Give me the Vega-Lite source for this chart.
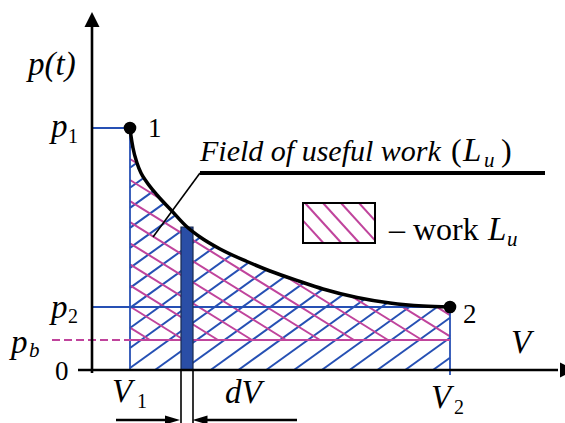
{
  "$schema": "https://vega.github.io/schema/vega-lite/v6.json",
  "width": 565,
  "height": 423,
  "padding": 0,
  "autosize": {"type": "none"},
  "background": "white",
  "config": {"view": {"stroke": null}, "text": {"font": "'Liberation Serif', 'Times New Roman', 'DejaVu Serif', serif"}},
  "datasets": {
    "curve": [
      {"u": 3.8, "v": 24.2}, {"u": 3.9, "v": 23.4}, {"u": 4.1, "v": 22.2}, {"u": 4.5, "v": 20.7},
      {"u": 4.9, "v": 19.7}, {"u": 5.4, "v": 18.9}, {"u": 6.5, "v": 17.5}, {"u": 7.9, "v": 16.0},
      {"u": 9.4, "v": 14.4}, {"u": 10.8, "v": 13.3}, {"u": 12.8, "v": 12.1}, {"u": 15.5, "v": 10.85},
      {"u": 17.8, "v": 9.9}, {"u": 20.8, "v": 8.85}, {"u": 23.1, "v": 8.1}, {"u": 26.5, "v": 7.25},
      {"u": 29.8, "v": 6.7}, {"u": 33.1, "v": 6.4}, {"u": 35.8, "v": 6.3}
    ],
    "segs": [
      {"kind": "bh", "u": 3.8, "v": 22.22, "u2": 10.44, "v2": 27},
      {"kind": "bh", "u": 3.8, "v": 20.22, "u2": 13.22, "v2": 27},
      {"kind": "bh", "u": 3.8, "v": 18.22, "u2": 16.0, "v2": 27},
      {"kind": "bh", "u": 3.8, "v": 16.21, "u2": 18.78, "v2": 27},
      {"kind": "bh", "u": 3.8, "v": 14.21, "u2": 21.56, "v2": 27},
      {"kind": "bh", "u": 3.8, "v": 12.21, "u2": 24.34, "v2": 27},
      {"kind": "bh", "u": 3.8, "v": 10.21, "u2": 27.12, "v2": 27},
      {"kind": "bh", "u": 3.8, "v": 8.21, "u2": 29.9, "v2": 27},
      {"kind": "bh", "u": 3.8, "v": 6.21, "u2": 32.68, "v2": 27},
      {"kind": "bh", "u": 3.8, "v": 4.2, "u2": 35.46, "v2": 27},
      {"kind": "bh", "u": 3.8, "v": 2.2, "u2": 35.8, "v2": 25.24},
      {"kind": "bh", "u": 3.8, "v": 0.2, "u2": 35.8, "v2": 23.24},
      {"kind": "bh", "u": 6.3, "v": 0, "u2": 35.8, "v2": 21.24},
      {"kind": "bh", "u": 9.08, "v": 0, "u2": 35.8, "v2": 19.24},
      {"kind": "bh", "u": 11.86, "v": 0, "u2": 35.8, "v2": 17.24},
      {"kind": "bh", "u": 14.64, "v": 0, "u2": 35.8, "v2": 15.24},
      {"kind": "bh", "u": 17.42, "v": 0, "u2": 35.8, "v2": 13.23},
      {"kind": "bh", "u": 20.2, "v": 0, "u2": 35.8, "v2": 11.23},
      {"kind": "bh", "u": 22.98, "v": 0, "u2": 35.8, "v2": 9.23},
      {"kind": "bh", "u": 25.76, "v": 0, "u2": 35.8, "v2": 7.23},
      {"kind": "bh", "u": 28.54, "v": 0, "u2": 35.8, "v2": 5.23},
      {"kind": "bh", "u": 31.32, "v": 0, "u2": 35.8, "v2": 3.23},
      {"kind": "bh", "u": 34.1, "v": 0, "u2": 35.8, "v2": 1.22},
      {"kind": "mh", "u": 3.8, "v": 4.24, "u2": 5.8, "v2": 3.0},
      {"kind": "mh", "u": 3.8, "v": 6.35, "u2": 9.2, "v2": 3.0},
      {"kind": "mh", "u": 3.8, "v": 8.46, "u2": 12.6, "v2": 3.0},
      {"kind": "mh", "u": 3.8, "v": 10.56, "u2": 16.0, "v2": 3.0},
      {"kind": "mh", "u": 3.8, "v": 12.67, "u2": 19.4, "v2": 3.0},
      {"kind": "mh", "u": 3.8, "v": 14.78, "u2": 22.8, "v2": 3.0},
      {"kind": "mh", "u": 3.8, "v": 16.89, "u2": 26.2, "v2": 3.0},
      {"kind": "mh", "u": 3.8, "v": 19.0, "u2": 29.6, "v2": 3.0},
      {"kind": "mh", "u": 3.8, "v": 21.1, "u2": 33.0, "v2": 3.0},
      {"kind": "mh", "u": 3.8, "v": 23.21, "u2": 35.8, "v2": 3.37},
      {"kind": "mh", "u": 3.8, "v": 25.32, "u2": 35.8, "v2": 5.48},
      {"kind": "gb", "u": 0, "v": 24.2, "u2": 3.8, "v2": 24.2},
      {"kind": "gb", "u": 0, "v": 6.3, "u2": 35.8, "v2": 6.3},
      {"kind": "gb", "u": 3.8, "v": 24.2, "u2": 3.8, "v2": 0},
      {"kind": "gb", "u": 35.8, "v": 6.3, "u2": 35.8, "v2": -0.5},
      {"kind": "gm", "u": 3.8, "v": 3.0, "u2": 35.8, "v2": 3.0},
      {"kind": "gmd", "u": -4.0, "v": 3.0, "u2": 3.8, "v2": 3.0},
      {"kind": "ax", "u": 0, "v": -0.3, "u2": 0, "v2": 35.2},
      {"kind": "ax", "u": -1.4, "v": 0, "u2": 46.6, "v2": 0},
      {"kind": "thin", "u": 10.8, "v": 19.7, "u2": 6.1, "v2": 13.3},
      {"kind": "thin", "u": 8.9, "v": 0, "u2": 8.9, "v2": -5.4},
      {"kind": "thin", "u": 10.1, "v": 0, "u2": 10.1, "v2": -5.4},
      {"kind": "ul", "u": 10.8, "v": 19.7, "u2": 45.3, "v2": 19.7},
      {"kind": "da", "u": 2.4, "v": -5.0, "u2": 8.1, "v2": -5.0},
      {"kind": "da", "u": 10.8, "v": -5.0, "u2": 20.5, "v2": -5.0},
      {"kind": "lh", "u": 21.1, "v": 14.94, "u2": 23.14, "v2": 12.7},
      {"kind": "lh", "u": 21.3, "v": 16.7, "u2": 24.94, "v2": 12.7},
      {"kind": "lh", "u": 23.1, "v": 16.7, "u2": 26.74, "v2": 12.7},
      {"kind": "lh", "u": 24.9, "v": 16.7, "u2": 28.3, "v2": 12.96},
      {"kind": "lh", "u": 26.7, "v": 16.7, "u2": 28.3, "v2": 14.94}
    ],
    "boxes": [
      {"kind": "bar", "u": 8.9, "u2": 10.1, "v": 0, "v2": 14.3},
      {"kind": "legend", "u": 21.1, "u2": 28.3, "v": 12.7, "v2": 16.7}
    ],
    "heads": [
      {"kind": "up", "u": 0, "v": 35.05},
      {"kind": "right", "u": 47.55, "v": 0},
      {"kind": "dr", "u": 8.05, "v": -5.0},
      {"kind": "dl", "u": 10.8, "v": -5.0}
    ],
    "dots": [
      {"name": "1", "u": 3.8, "v": 24.2},
      {"name": "2", "u": 35.8, "v": 6.3}
    ],
    "labels": [
      {"kind": "math", "text": "p(t)", "u": -6.4, "v": 29.5},
      {"kind": "math", "text": "p", "u": -4.1, "v": 23.3},
      {"kind": "math", "text": "p", "u": -4.1, "v": 5.2},
      {"kind": "math", "text": "p", "u": -8.1, "v": 1.7},
      {"kind": "math", "text": "V", "u": 2.0, "v": -3.2},
      {"kind": "math", "text": "dV", "u": 13.3, "v": -3.3},
      {"kind": "math", "text": "V", "u": 33.9, "v": -3.8},
      {"kind": "math", "text": "V", "u": 41.9, "v": 1.7},
      {"kind": "math", "text": "L", "u": 37.1, "v": 20.9},
      {"kind": "math", "text": "L", "u": 39.6, "v": 13.0},
      {"kind": "var", "text": "Field of useful work", "u": 10.8, "v": 20.9},
      {"kind": "sub", "text": "1", "u": -2.4, "v": 22.7},
      {"kind": "sub", "text": "2", "u": -2.4, "v": 4.7},
      {"kind": "sub", "text": "1", "u": 4.5, "v": -3.8},
      {"kind": "sub", "text": "2", "u": 36.2, "v": -4.4},
      {"kind": "isub", "text": "b", "u": -6.3, "v": 1.3},
      {"kind": "isub", "text": "u", "u": 39.2, "v": 20.3},
      {"kind": "isub", "text": "u", "u": 41.5, "v": 12.4},
      {"kind": "num", "text": "1", "u": 5.6, "v": 23.3},
      {"kind": "num", "text": "2", "u": 37.1, "v": 4.7},
      {"kind": "num", "text": "0", "u": -3.7, "v": -1.0},
      {"kind": "word", "text": "(", "u": 35.9, "v": 20.9},
      {"kind": "word", "text": ")", "u": 40.9, "v": 20.9},
      {"kind": "word", "text": "– work", "u": 29.7, "v": 13.0}
    ]
  },
  "encoding": {
    "x": {"field": "u", "type": "quantitative", "axis": null, "scale": {"domain": [-9.2, 47.3], "nice": false, "zero": false}},
    "y": {"field": "v", "type": "quantitative", "axis": null, "scale": {"domain": [-5.3, 37.0], "nice": false, "zero": false}}
  },
  "layer": [
    {
      "data": {"name": "segs"},
      "transform": [{"filter": "datum.kind === 'bh'"}],
      "mark": {"type": "rule", "color": "#2650b4", "strokeWidth": 2},
      "encoding": {"x2": {"field": "u2"}, "y2": {"field": "v2"}}
    },
    {
      "data": {"name": "segs"},
      "transform": [{"filter": "datum.kind === 'mh'"}],
      "mark": {"type": "rule", "color": "#c0449c", "strokeWidth": 2},
      "encoding": {"x2": {"field": "u2"}, "y2": {"field": "v2"}}
    },
    {
      "data": {"name": "curve"},
      "mark": {"type": "area", "interpolate": "monotone", "color": "white", "stroke": "white", "strokeWidth": 2.5, "opacity": 1},
      "encoding": {"y2": {"datum": 27.5}}
    },
    {
      "data": {"name": "segs"},
      "transform": [{"filter": "datum.kind === 'gb'"}],
      "mark": {"type": "rule", "color": "#2650b4", "strokeWidth": 1.8},
      "encoding": {"x2": {"field": "u2"}, "y2": {"field": "v2"}}
    },
    {
      "data": {"name": "segs"},
      "transform": [{"filter": "datum.kind === 'gm'"}],
      "mark": {"type": "rule", "color": "#c0449c", "strokeWidth": 2},
      "encoding": {"x2": {"field": "u2"}, "y2": {"field": "v2"}}
    },
    {
      "data": {"name": "segs"},
      "transform": [{"filter": "datum.kind === 'gmd'"}],
      "mark": {"type": "rule", "color": "#c0449c", "strokeWidth": 2, "strokeDash": [8, 4]},
      "encoding": {"x2": {"field": "u2"}, "y2": {"field": "v2"}}
    },
    {
      "data": {"name": "boxes"},
      "transform": [{"filter": "datum.kind === 'bar'"}],
      "mark": {"type": "rect", "color": "#2a4ea6", "stroke": "#1a2a50", "strokeWidth": 1.2},
      "encoding": {"x2": {"field": "u2"}, "y2": {"field": "v2"}}
    },
    {
      "data": {"name": "curve"},
      "mark": {"type": "line", "interpolate": "monotone", "color": "black", "strokeWidth": 3.5},
      "encoding": {}
    },
    {
      "data": {"name": "segs"},
      "transform": [{"filter": "datum.kind === 'ax'"}],
      "mark": {"type": "rule", "color": "black", "strokeWidth": 2.6},
      "encoding": {"x2": {"field": "u2"}, "y2": {"field": "v2"}}
    },
    {
      "data": {"name": "segs"},
      "transform": [{"filter": "datum.kind === 'thin'"}],
      "mark": {"type": "rule", "color": "black", "strokeWidth": 1.6},
      "encoding": {"x2": {"field": "u2"}, "y2": {"field": "v2"}}
    },
    {
      "data": {"name": "segs"},
      "transform": [{"filter": "datum.kind === 'ul'"}],
      "mark": {"type": "rule", "color": "black", "strokeWidth": 4},
      "encoding": {"x2": {"field": "u2"}, "y2": {"field": "v2"}}
    },
    {
      "data": {"name": "segs"},
      "transform": [{"filter": "datum.kind === 'da'"}],
      "mark": {"type": "rule", "color": "black", "strokeWidth": 2.5},
      "encoding": {"x2": {"field": "u2"}, "y2": {"field": "v2"}}
    },
    {
      "data": {"name": "heads"},
      "mark": {"type": "point", "filled": true, "color": "black", "size": 225, "opacity": 1},
      "encoding": {
        "shape": {"field": "kind", "type": "nominal", "legend": null,
          "scale": {"domain": ["up", "right", "dr", "dl"],
                    "range": ["M0,-1L1,1L-1,1Z", "M1,0L-1,-1L-1,1Z", "M1,0L-1,-0.6L-1,0.6Z", "M-1,0L1,-0.6L1,0.6Z"]}}
      }
    },
    {
      "data": {"name": "dots"},
      "mark": {"type": "point", "shape": "circle", "filled": true, "color": "black", "size": 160, "opacity": 1}
    },
    {
      "data": {"name": "segs"},
      "transform": [{"filter": "datum.kind === 'lh'"}],
      "mark": {"type": "rule", "color": "#c0449c", "strokeWidth": 2},
      "encoding": {"x2": {"field": "u2"}, "y2": {"field": "v2"}}
    },
    {
      "data": {"name": "boxes"},
      "transform": [{"filter": "datum.kind === 'legend'"}],
      "mark": {"type": "rect", "filled": false, "stroke": "black", "strokeWidth": 2},
      "encoding": {"x2": {"field": "u2"}, "y2": {"field": "v2"}}
    },
    {
      "data": {"name": "labels"},
      "transform": [{"filter": "datum.kind === 'math'"}],
      "mark": {"type": "text", "fontStyle": "italic", "fontSize": 33, "align": "left", "baseline": "alphabetic", "color": "black"},
      "encoding": {"text": {"field": "text"}}
    },
    {
      "data": {"name": "labels"},
      "transform": [{"filter": "datum.kind === 'var'"}],
      "mark": {"type": "text", "fontStyle": "italic", "fontSize": 30, "align": "left", "baseline": "alphabetic", "color": "black"},
      "encoding": {"text": {"field": "text"}}
    },
    {
      "data": {"name": "labels"},
      "transform": [{"filter": "datum.kind === 'sub'"}],
      "mark": {"type": "text", "fontSize": 20, "align": "left", "baseline": "alphabetic", "color": "black"},
      "encoding": {"text": {"field": "text"}}
    },
    {
      "data": {"name": "labels"},
      "transform": [{"filter": "datum.kind === 'isub'"}],
      "mark": {"type": "text", "fontStyle": "italic", "fontSize": 21, "align": "left", "baseline": "alphabetic", "color": "black"},
      "encoding": {"text": {"field": "text"}}
    },
    {
      "data": {"name": "labels"},
      "transform": [{"filter": "datum.kind === 'num'"}],
      "mark": {"type": "text", "fontSize": 27, "align": "left", "baseline": "alphabetic", "color": "black"},
      "encoding": {"text": {"field": "text"}}
    },
    {
      "data": {"name": "labels"},
      "transform": [{"filter": "datum.kind === 'word'"}],
      "mark": {"type": "text", "fontSize": 32, "align": "left", "baseline": "alphabetic", "color": "black"},
      "encoding": {"text": {"field": "text"}}
    }
  ]
}
